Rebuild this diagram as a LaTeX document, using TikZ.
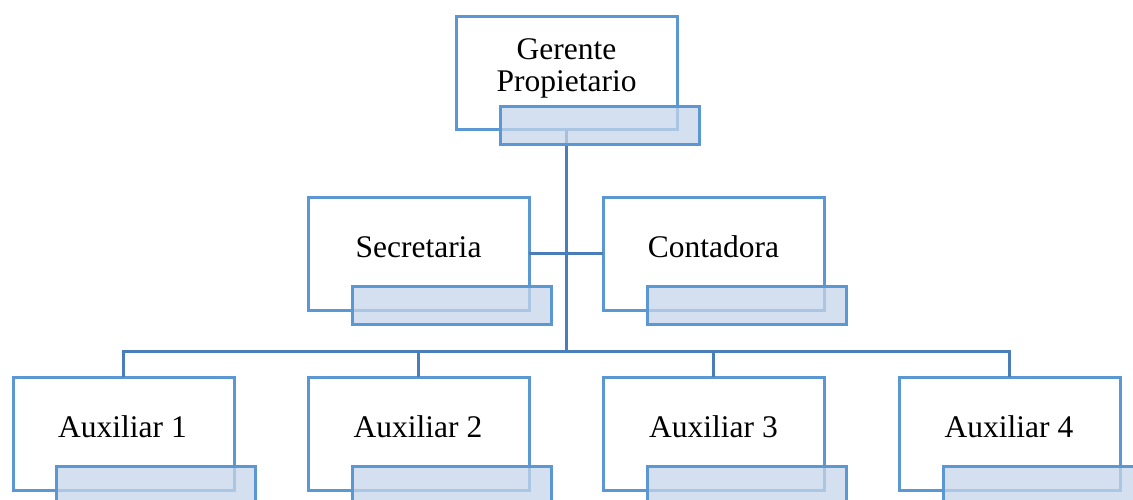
\documentclass[tikz,border=0pt]{standalone}
\usepackage{fontspec}
\setmainfont{Liberation Serif}
\definecolor{boxblue}{RGB}{91,151,210}
\definecolor{linkblue}{RGB}{74,126,187}
\definecolor{tagfill}{RGB}{198,214,234}
\begin{document}
\begin{tikzpicture}[x=1pt,y=-1pt,
  unitbox/.style={draw=boxblue, line width=3pt, fill=white, outer sep=0pt,
    minimum width=221pt, minimum height=113pt, inner sep=0pt, anchor=north west},
  tagbar/.style={draw=boxblue, line width=3pt, fill=tagfill, fill opacity=0.75, outer sep=0pt,
    minimum width=199pt, minimum height=38pt, inner sep=0pt, anchor=north west},
  caption/.style={font=\fontsize{31.5}{32}\selectfont, anchor=base, inner sep=0pt, align=center},
  link/.style={draw=linkblue, line width=3pt}]
\useasboundingbox (0,0) rectangle (1133,500);

% boxes
\node[unitbox] (ger)  at (456,17)  {};
\node[unitbox] (sec)  at (308,197) {};
\node[unitbox] (cont) at (603,197) {};
\node[unitbox] (a1)   at (13,377)  {};
\node[unitbox] (a2)   at (308,377) {};
\node[unitbox] (a3)   at (603,377) {};
\node[unitbox] (a4)   at (899,377) {};

% connectors
\coordinate (busmid) at (566.5,351);
\draw[link] (ger.south) -- (busmid);
\draw[link] (sec.east) -- (cont.west);
\draw[link] (a1.north) -- (a1.north |- busmid) -- (a4.north |- busmid) -- (a4.north);
\draw[link] (a2.north) -- (a2.north |- busmid);
\draw[link] (a3.north) -- (a3.north |- busmid);

% name tags
\node[tagbar] (gertag)  at (500,107) {};
\node[tagbar] (sectag)  at (352,286) {};
\node[tagbar] (conttag) at (647,286) {};
\node[tagbar] (a1tag)   at (56,466)  {};
\node[tagbar] (a2tag)   at (352,466) {};
\node[tagbar] (a3tag)   at (647,466) {};
\node[tagbar] (a4tag)   at (943,466) {};

% captions (base anchor sits on the last line)
\node[caption] (gertxt)  at (566.5,92) {Gerente\\Propietario};
\node[caption] (sectxt)  at (418.5,257) {Secretaria};
\node[caption] (conttxt) at (713.5,257) {Contadora};
\node[caption] (a1txt)   at (122.5,437) {Auxiliar 1};
\node[caption] (a2txt)   at (418,437) {Auxiliar 2};
\node[caption] (a3txt)   at (713.5,437) {Auxiliar 3};
\node[caption] (a4txt)   at (1009,437) {Auxiliar 4};
\end{tikzpicture}
\end{document}
